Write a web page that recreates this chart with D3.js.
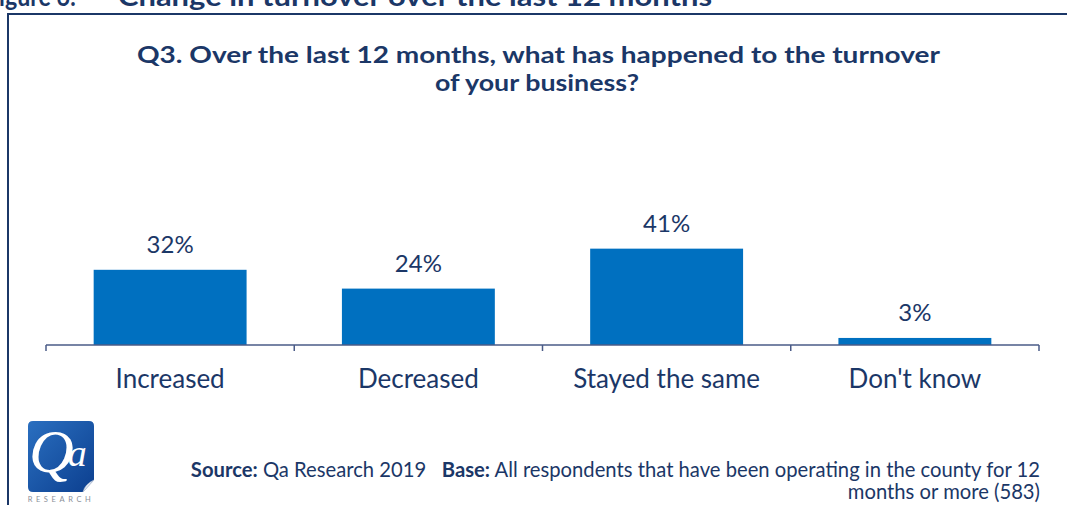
<!DOCTYPE html>
<html>
<head>
<meta charset="utf-8">
<script src="https://cdn.jsdelivr.net/npm/d3@7"></script>
<style>
  html, body { margin: 0; padding: 0; background: #fff; }
  svg { display: block; }
</style>
</head>
<body>
<svg id="chart" width="1067" height="505"></svg>
<script>
// Survey responses (Q3, turnover change over last 12 months)
const categories = ["Increased", "Decreased", "Stayed the same", "Don't know"];
const values = [32, 24, 41, 3];
const valueLabels = ["32%", "24%", "41%", "3%"];

const titleLines = [
  "Q3. Over the last 12 months, what has happened to the turnover",
  "of your business?"
];
const figureTitle = ["Figure 6:", "Change in turnover over the last 12 months"];
const sourceParts = [
  { text: "Source:", bold: true },
  { text: " Qa Research 2019   ", bold: false },
  { text: "Base:", bold: true },
  { text: " All respondents that have been operating in the county for 12", bold: false }
];
const sourceLine2 = "months or more (583)";

const NAVY = "#1b3767";
const BAR = "#0070c0";
const FONT = "Lato, 'Open Sans', sans-serif";

const svg = d3.select("#chart");

// Scales
const x = d3.scaleBand()
  .domain(categories)
  .range([46, 1039])
  .paddingInner(0.384)
  .paddingOuter(0.192);
const y = d3.scaleLinear().domain([0, 100]).range([345, 110]);

// Figure caption above the frame (partly clipped by the top edge)
svg.append("text")
  .attr("x", -14).attr("y", 6)
  .attr("font-family", FONT).attr("font-weight", 700).attr("font-size", 26)
  .attr("fill", NAVY)
  .attr("textLength", 90).attr("lengthAdjust", "spacingAndGlyphs")
  .text(figureTitle[0]);
svg.append("text")
  .attr("x", 118).attr("y", 6)
  .attr("font-family", FONT).attr("font-weight", 700).attr("font-size", 26)
  .attr("fill", NAVY)
  .attr("textLength", 594).attr("lengthAdjust", "spacingAndGlyphs")
  .text(figureTitle[1]);

// Frame around the chart
svg.append("path")
  .attr("d", "M8,505V14H1067")
  .attr("fill", "none")
  .attr("stroke", NAVY)
  .attr("stroke-width", 2);

// Title, stretched so each line spans its slot
const titleG = svg.append("g")
  .attr("font-family", FONT).attr("font-weight", 700)
  .attr("fill", NAVY).attr("font-size", 23);
titleG.append("text").attr("x", 137).attr("y", 63)
  .attr("textLength", 803).attr("lengthAdjust", "spacingAndGlyphs")
  .text(titleLines[0]);
titleG.append("text").attr("x", 435).attr("y", 91)
  .attr("textLength", 204).attr("lengthAdjust", "spacingAndGlyphs")
  .text(titleLines[1]);

// Bars
svg.append("g")
  .selectAll("rect")
  .data(values)
  .join("rect")
  .attr("x", (d, i) => x(categories[i]))
  .attr("y", d => y(d))
  .attr("width", x.bandwidth())
  .attr("height", d => y(0) - y(d))
  .attr("fill", BAR);

// Value labels
svg.append("g")
  .selectAll("text")
  .data(values)
  .join("text")
  .attr("x", (d, i) => x(categories[i]) + x.bandwidth() / 2)
  .attr("y", d => y(d) - 17)
  .attr("text-anchor", "middle")
  .attr("font-family", FONT)
  .attr("font-size", 24)
  .attr("fill", NAVY)
  .text((d, i) => valueLabels[i]);

// Category axis: baseline with ticks at band boundaries
const axisG = svg.append("g").attr("stroke", "#4a5b87").attr("stroke-width", 1.5);
axisG.append("line")
  .attr("x1", x.range()[0]).attr("x2", x.range()[1])
  .attr("y1", y(0)).attr("y2", y(0));
const edges = categories.map(c => x(c) - x.step() * x.paddingInner() / 2).concat([x.range()[1]]);
edges[0] = x.range()[0];
axisG.selectAll("line.tick")
  .data(edges)
  .join("line")
  .attr("class", "tick")
  .attr("x1", d => d).attr("x2", d => d)
  .attr("y1", y(0)).attr("y2", y(0) + 6);

svg.append("g")
  .selectAll("text")
  .data(categories)
  .join("text")
  .attr("x", d => x(d) + x.bandwidth() / 2)
  .attr("y", 388)
  .attr("text-anchor", "middle")
  .attr("font-family", FONT)
  .attr("font-size", 26)
  .attr("fill", NAVY)
  .text(d => d);

// Source / base note
const src = svg.append("text")
  .attr("x", 1040).attr("y", 477)
  .attr("text-anchor", "end")
  .attr("font-family", FONT).attr("font-size", 18)
  .attr("fill", NAVY)
  .attr("xml:space", "preserve");
src.selectAll("tspan")
  .data(sourceParts)
  .join("tspan")
  .attr("font-weight", d => d.bold ? 700 : 400)
  .text(d => d.text);
const sFont = 18 * 850 / src.node().getComputedTextLength();
src.attr("font-size", sFont);
svg.append("text")
  .attr("x", 1040).attr("y", 499)
  .attr("text-anchor", "end")
  .attr("font-family", FONT).attr("font-size", sFont)
  .attr("fill", NAVY)
  .text(sourceLine2);

// Qa Research logo
const defs = svg.append("defs");
const grad = defs.append("linearGradient").attr("id", "logoBlue")
  .attr("x1", 0).attr("y1", 0).attr("x2", 1).attr("y2", 1);
grad.append("stop").attr("offset", "0%").attr("stop-color", "#2a6fc0");
grad.append("stop").attr("offset", "100%").attr("stop-color", "#0c3f8f");
const logo = svg.append("g");
logo.append("path")
  .attr("d", "M33,421H89Q94,421 94,426V480L83,492H33Q28,492 28,487V426Q28,421 33,421Z")
  .attr("fill", "url(#logoBlue)");
// page curl
logo.append("path")
  .attr("d", "M94,480L83,492Q85,484 94,480Z")
  .attr("fill", "#e8ecf3")
  .attr("stroke", "#b9c2d3").attr("stroke-width", 0.6);
const mark = logo.append("text")
  .attr("x", 29).attr("y", 472)
  .attr("font-family", "'Liberation Serif', 'DejaVu Serif', serif")
  .attr("font-style", "italic")
  .attr("fill", "#fff");
mark.append("tspan").attr("font-size", 62).text("Q");
mark.append("tspan").attr("font-size", 38).attr("dx", -6).attr("dy", -6).text("a");
logo.append("text")
  .attr("x", 61).attr("y", 502)
  .attr("text-anchor", "middle")
  .attr("font-family", FONT)
  .attr("font-size", 7.5)
  .attr("letter-spacing", 3.6)
  .attr("fill", "#8a8f99")
  .text("RESEARCH");
</script>
</body>
</html>
